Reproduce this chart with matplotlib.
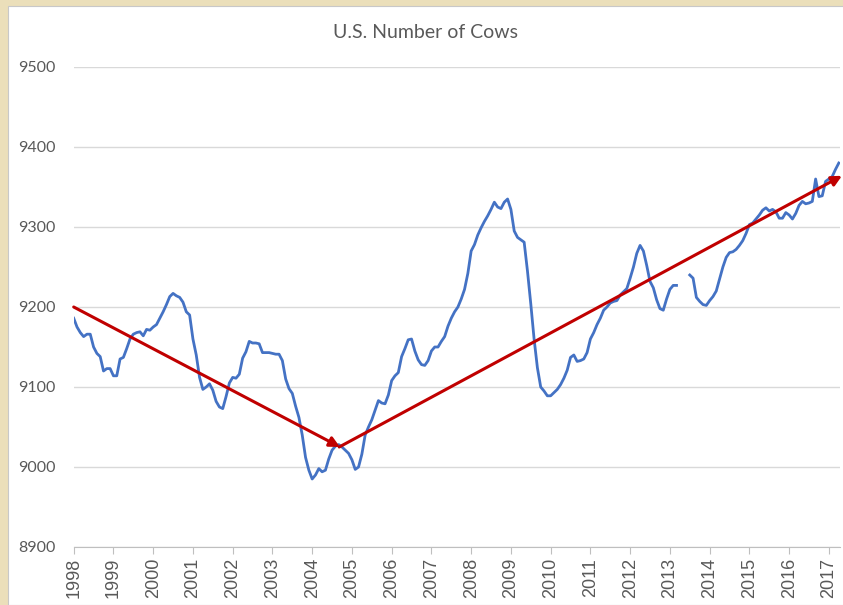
import numpy as np
import matplotlib
matplotlib.use("Agg")
import matplotlib.pyplot as plt
from matplotlib.patches import Rectangle

# monthly values, Jan 1998 .. Apr 2017 (thousand head), nan = missing
cows_1998 = [9186, 9175, 9168, 9163, 9166, 9166, 9150, 9142, 9138, 9120, 9123, 9123]
cows_1999 = [9114, 9114, 9135, 9137, 9148, 9160, 9166, 9168, 9169, 9164, 9172, 9171]
cows_2000 = [9175, 9178, 9186, 9194, 9203, 9213, 9217, 9214, 9212, 9206, 9194, 9190]
cows_2001 = [9160, 9140, 9112, 9097, 9100, 9104, 9096, 9082, 9075, 9073, 9088, 9105]
cows_2002 = [9112, 9111, 9116, 9136, 9144, 9157, 9155, 9155, 9154, 9143, 9143, 9143]
cows_2003 = [9142, 9141, 9141, 9133, 9110, 9098, 9092, 9076, 9062, 9040, 9012, 8996]
cows_2004 = [8985, 8990, 8998, 8994, 8996, 9010, 9021, 9026, 9028, 9025, 9021, 9017]
cows_2005 = [9009, 8997, 9000, 9016, 9040, 9050, 9059, 9071, 9083, 9080, 9079, 9090]
cows_2006 = [9108, 9114, 9118, 9138, 9148, 9159, 9160, 9145, 9134, 9128, 9127, 9133]
cows_2007 = [9145, 9150, 9150, 9157, 9163, 9176, 9186, 9194, 9200, 9210, 9222, 9242]
cows_2008 = [9270, 9278, 9290, 9299, 9307, 9314, 9322, 9331, 9325, 9323, 9331, 9335]
cows_2009 = [9322, 9295, 9287, 9284, 9281, 9245, 9204, 9160, 9124, 9100, 9095, 9089]
cows_2010 = [9089, 9093, 9097, 9103, 9111, 9121, 9137, 9140, 9132, 9133, 9135, 9143]
cows_2011 = [9160, 9168, 9178, 9186, 9196, 9200, 9205, 9207, 9208, 9215, 9219, 9223]
cows_2012 = [9236, 9250, 9267, 9277, 9270, 9252, 9232, 9224, 9209, 9198, 9196, 9210]
cows_2013 = [9222, 9227, 9227, np.nan, np.nan, np.nan, 9240, 9236, 9212, 9207, 9203, 9202]
cows_2014 = [9208, 9213, 9220, 9235, 9250, 9262, 9268, 9269, 9272, 9277, 9283, 9292]
cows_2015 = [9303, 9305, 9310, 9315, 9321, 9324, 9320, 9322, 9319, 9311, 9311, 9318]
cows_2016 = [9315, 9310, 9317, 9327, 9332, 9329, 9330, 9332, 9360, 9338, 9339, 9357]
cows_2017 = [9360, 9363, 9372, 9380]

cows = (cows_1998 + cows_1999 + cows_2000 + cows_2001 + cows_2002 + cows_2003 +
        cows_2004 + cows_2005 + cows_2006 + cows_2007 + cows_2008 + cows_2009 +
        cows_2010 + cows_2011 + cows_2012 + cows_2013 + cows_2014 + cows_2015 +
        cows_2016 + cows_2017)
months = 1998 + np.arange(len(cows)) / 12.0

years = list(range(1998, 2018))
y_ticks = [8900, 9000, 9100, 9200, 9300, 9400, 9500]

# trend arrows (start, end)
trend_down = [(1998.0, 9200), (2004.70, 9025)]
trend_up = [(2004.68, 9025), (2017.33, 9364)]

fig = plt.figure(figsize=(8.43, 6.05), dpi=100)
fig.patch.set_facecolor('#ebdfba')
fig.patches.append(Rectangle((8 / 843, 0), 1, 1 - 6 / 605, transform=fig.transFigure,
                             facecolor='white', edgecolor='#c8c8c8', linewidth=0.8, zorder=-10))

ax = fig.add_axes([73.7 / 843, 1 - 547 / 605, (840 - 73.7) / 843, (547 - 67) / 605])
ax.set_zorder(1)
ax.set_facecolor('none')

ax.plot(months, cows, color='#4472C4', linewidth=2.0, zorder=3)

for start, end in (trend_down, trend_up):
    ax.annotate('', xy=end, xytext=start,
                arrowprops=dict(arrowstyle='-|>,head_length=0.6,head_width=0.3',
                                color='#C00000', lw=2.2, shrinkA=0, shrinkB=0),
                annotation_clip=False, zorder=4)

ax.set_xlim(1998, 2017.28)
ax.set_ylim(8900, 9500)
ax.set_yticks(y_ticks)
ax.set_xticks(years)
ax.set_xticklabels([str(y) for y in years], rotation=90, fontsize=13,
                   family='Liberation Sans', color='#595959')
ax.set_yticklabels([str(v) for v in y_ticks], fontsize=11.5, family='Lato', color='#595959')

ax.grid(axis='y', color='#d9d9d9', linewidth=1.0)
ax.set_axisbelow(True)
for side in ('top', 'right', 'left'):
    ax.spines[side].set_visible(False)
ax.spines['bottom'].set_color('#bfbfbf')
ax.tick_params(axis='y', length=0, pad=13)
ax.tick_params(axis='x', length=5, color='#bfbfbf', pad=3)

fig.text(0.5 + 8 / 843 / 2, 1 - 32 / 605, 'U.S. Number of Cows', ha='center', va='center',
         fontsize=14, family='Lato', color='#595959')

fig.savefig('out.png', dpi=100, facecolor=fig.get_facecolor())
